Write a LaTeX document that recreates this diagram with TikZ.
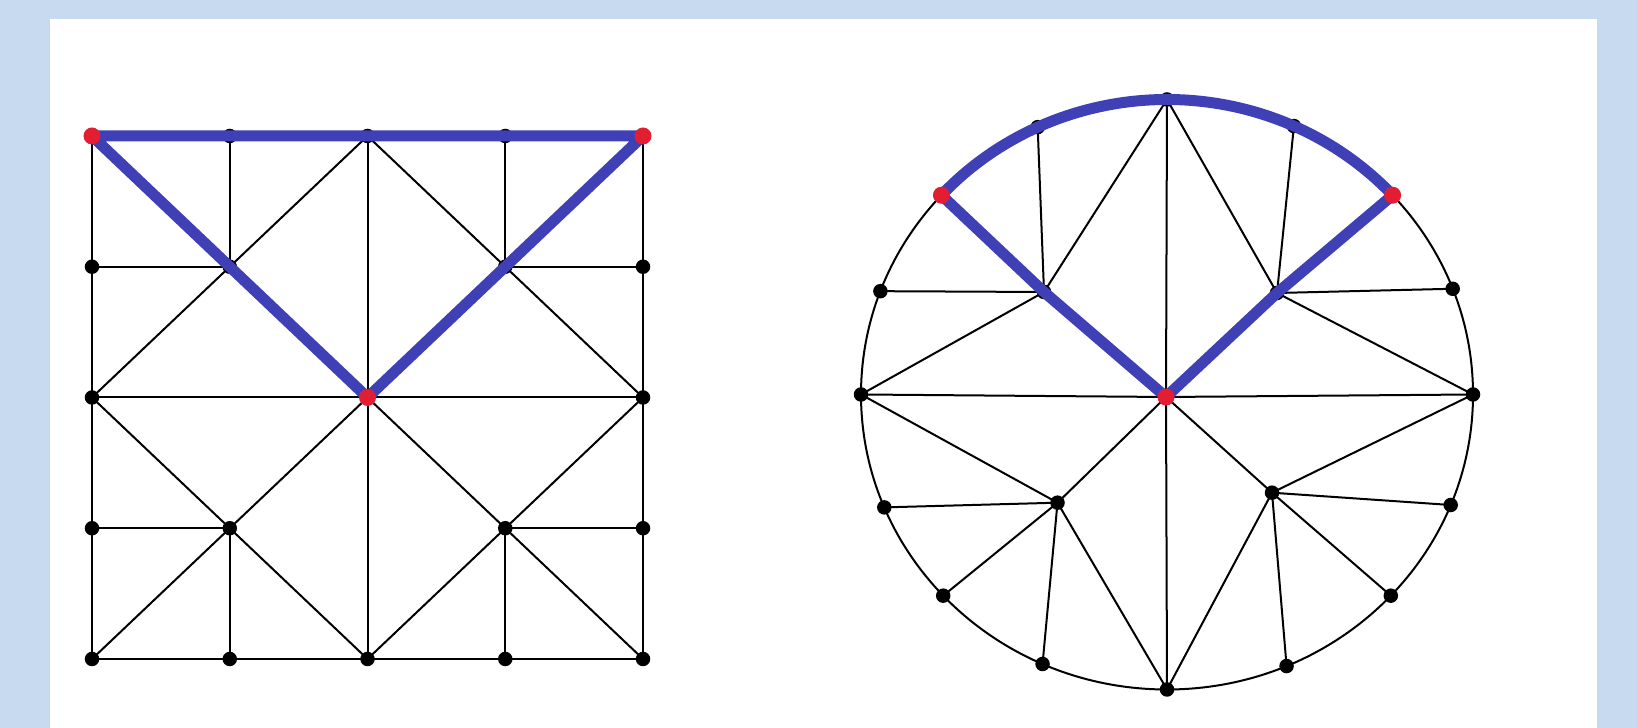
\documentclass[tikz,border=0pt]{standalone}
\usepackage{tikz}
\usepackage{xcolor}
\usetikzlibrary{calc}

\definecolor{backblue}{RGB}{200,218,240}
\definecolor{routeblue}{RGB}{64,64,182}
\definecolor{dotred}{RGB}{228,30,50}

\begin{document}
\begin{tikzpicture}[
  x=0.01cm, y=0.01cm,
  edge/.style={draw=black, line width=0.2mm},
  route/.style={draw=routeblue, line width=1.1mm, line join=round, line cap=round},
  dot/.style={circle, fill=black, inner sep=0pt, minimum size=1.45mm},
  hot/.style={circle, fill=dotred, inner sep=0pt, minimum size=1.7mm}
]
% Frame
\useasboundingbox (0,0) rectangle (1637,728);
\fill[backblue] (0,0) rectangle (1637,728);
\fill[white] (50,0) rectangle (1597,709);

% Square mesh: g<col><row>, row 0 on top
\foreach \i in {0,...,4} {
  \foreach \j in {0,...,4} {
    \coordinate (g\i\j) at ({92+137.75*\i},{592-130.75*\j});
  }
}

\draw[edge] (g00) -- (g04) -- (g44) -- (g40);
\draw[edge] (g20) -- (g24);
\draw[edge] (g02) -- (g42);
\draw[edge] (g10) -- (g11) -- (g01);
\draw[edge] (g30) -- (g31) -- (g41);
\draw[edge] (g14) -- (g13) -- (g03);
\draw[edge] (g34) -- (g33) -- (g43);
\draw[edge] (g02) -- (g20) -- (g42) -- (g24) -- cycle;
\draw[edge] (g04) -- (g22) -- (g44);

% Disc mesh: rim points r0..r15
\coordinate (disc) at (1167,333.5);
\foreach \k/\a in {0/0, 1/21, 2/42.5, 3/65.5, 4/90, 5/115, 6/137.5, 7/159.5,
                   8/180, 9/202.5, 10/223, 11/246, 12/270, 13/293, 14/317, 15/338} {
  \coordinate (r\k) at ($(disc)+(\a:306 and 295)$);
}
\coordinate (ctr) at (1166,331);
\coordinate (ul) at (1044,436);
\coordinate (ur) at (1277,435);
\coordinate (ll) at (1057.5,225.3);
\coordinate (lr) at (1272,235.3);

\draw[edge] (disc) ellipse [x radius=306, y radius=295];
\draw[edge] (r4) -- (ctr) -- (r12);
\draw[edge] (r8) -- (ctr) -- (r0);
\draw[edge] (r5) -- (ul) -- (r7);
\draw[edge] (r4) -- (ul) -- (r8);
\draw[edge] (r3) -- (ur) -- (r1);
\draw[edge] (r4) -- (ur) -- (r0);
\foreach \t in {r8,r9,r10,r11,r12,ctr}
  \draw[edge] (ll) -- (\t);
\foreach \t in {r0,r15,r14,r13,r12,ctr}
  \draw[edge] (lr) -- (\t);

% Dots under the route
\foreach \v in {g10,g20,g30,g11,g31,r3,r4,r5,ul,ur}
  \node[dot] (d-\v) at (\v) {};

% Routes
\draw[route] (g22) -- (g00) -- (g40) -- cycle;
\draw[route] (ctr) -- (ul) -- (r6)
  arc[start angle=137.5, end angle=42.5, x radius=306, y radius=295] -- (ur) -- cycle;

% Dots
\foreach \v in {g01,g41,g02,g42,g03,g13,g33,g43,g04,g14,g24,g34,g44,
                r0,r1,r7,r8,r9,r10,r11,r12,r13,r14,r15,ll,lr}
  \node[dot] (d-\v) at (\v) {};
\foreach \v in {g00,g40,g22,r2,r6,ctr}
  \node[hot] (d-\v) at (\v) {};

\end{tikzpicture}
\end{document}
